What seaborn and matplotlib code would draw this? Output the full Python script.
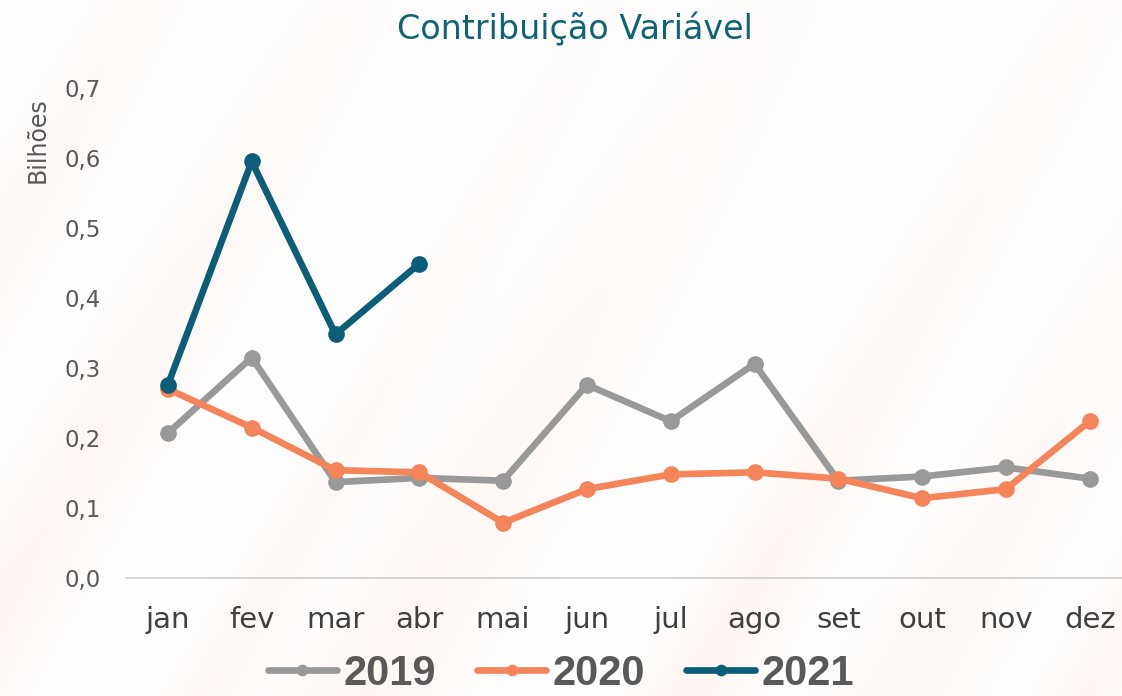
import numpy as np
import pandas as pd
import matplotlib
matplotlib.use("Agg")
import matplotlib.pyplot as plt
import seaborn as sns

# Monthly variable contribution, in billions
months = ["jan", "fev", "mar", "abr", "mai", "jun", "jul", "ago", "set", "out", "nov", "dez"]
v2019 = [0.207, 0.315, 0.137, 0.143, 0.139, 0.276, 0.224, 0.306, 0.139, 0.145, 0.158, 0.142]
v2020 = [0.270, 0.215, 0.154, 0.151, 0.079, 0.127, 0.148, 0.151, 0.142, 0.114, 0.127, 0.224]
v2021 = [0.276, 0.595, 0.348, 0.449]
years = ["2019", "2020", "2021"]
colors = ["#999999", "#F4845A", "#0B5E78"]
yticks = [0.0, 0.1, 0.2, 0.3, 0.4, 0.5, 0.6, 0.7]

rows = []
for year, vals in zip(years, [v2019, v2020, v2021]):
    for i, v in enumerate(vals):
        rows.append({"mes": i, "valor": v, "ano": year})
df = pd.DataFrame(rows)

sns.set_theme(style="white")
plt.rcParams["font.family"] = ["DejaVu Sans"]

fig = plt.figure(figsize=(11.22, 6.96), dpi=100)

# soft peach backdrop with diagonal streaks rising to the right
bg = fig.add_axes([0, 0, 1, 1], zorder=-10)
h, w = 348, 561
yy, xx = np.mgrid[0:h, 0:w]
u = xx * 0.86 + yy * 0.5
tint = np.zeros((h, w))
for c, s, a in [(60, 25, 0.45), (150, 30, 0.35), (260, 18, 0.25), (330, 40, 0.30),
                (470, 25, 0.35), (560, 35, 0.25), (640, 20, 0.30)]:
    tint += a * np.exp(-((u - c) / s) ** 2)
tint *= 0.35 + 0.65 * (yy / h)
tint = np.clip(tint, 0, 1) * 0.32
peach = np.array([245, 170, 130]) / 255.0
img = np.ones((h, w, 3)) * (1 - tint[..., None]) + peach * tint[..., None]
bg.imshow(img, aspect="auto", extent=[0, 1, 0, 1], interpolation="bicubic")
bg.set_axis_off()

ax = fig.add_axes([0.1123, 0.1695, 0.8877, 0.7041])
ax.set_facecolor("none")

sns.lineplot(data=df, x="mes", y="valor", hue="ano", hue_order=years,
             palette=colors, marker="o", markersize=12, markeredgewidth=0,
             linewidth=4.8, ax=ax, legend=True)

ax.set_xlim(-0.5, 11.385)
ax.set_ylim(0, 0.7)
ax.set_xticks(range(12))
ax.set_xticklabels(months, fontsize=21, color="#404040")
ax.set_yticks(yticks)
ax.set_yticklabels([f"{t:.1f}".replace(".", ",") for t in yticks], fontsize=16.5, color="#595959")
ax.tick_params(axis="x", length=0, pad=20)
ax.tick_params(axis="y", length=0, pad=18)
ax.set_xlabel("")
ax.set_ylabel("")
for side in ["top", "right", "left"]:
    ax.spines[side].set_visible(False)
ax.spines["bottom"].set_color("#D0D0D0")
ax.spines["bottom"].set_linewidth(1.2)
ax.grid(False)

fig.text(0.0335, 0.798, "Bilhões", rotation=90, ha="center", va="center",
         fontsize=17, color="#595959")
fig.text(0.512, 0.958, "Contribuição Variável", ha="center", va="center",
         fontsize=24, color="#0E6378")

handles, labels = ax.get_legend_handles_labels()
ax.legend(handles, labels, loc="center", bbox_to_anchor=(0.5, 0.032),
          bbox_transform=fig.transFigure, ncol=3, frameon=False,
          handlelength=1.65, handletextpad=0.15, columnspacing=1.0,
          markerscale=0.7,
          prop={"family": "Liberation Sans", "weight": "bold", "size": 30},
          labelcolor="#595959")

fig.savefig("out.png", dpi=100)
